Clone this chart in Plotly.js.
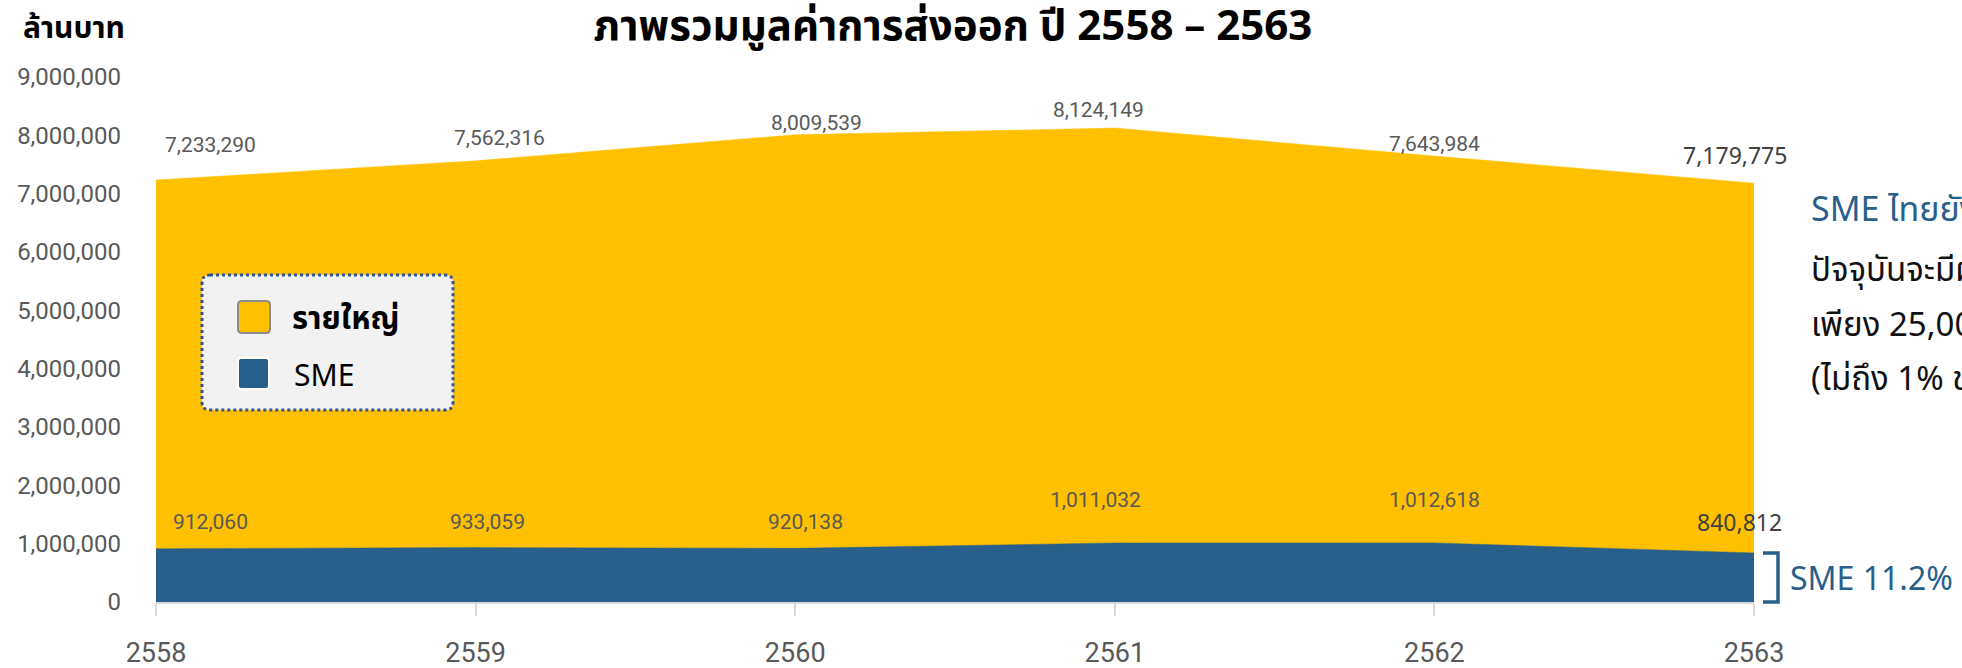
<!DOCTYPE html>
<html><head><meta charset="utf-8">
<script src="https://cdn.plot.ly/plotly-3.0.1.min.js"></script>
<style>html,body{margin:0;padding:0;background:#fff;overflow:hidden;} #chart{width:1962px;height:668px;}</style>
</head><body><div id="chart"></div>
<script>
// ---- data ----
const years = [2558, 2559, 2560, 2561, 2562, 2563];
const yearLabels = ['2558', '2559', '2560', '2561', '2562', '2563'];
const totalExport = [7233290, 7562316, 8009539, 8124149, 7643984, 7179775];
const smeExport = [912060, 933059, 920138, 1011032, 1012618, 840812];
const seriesNames = ['รายใหญ่', 'SME'];
const yTickVals = [0, 1000000, 2000000, 3000000, 4000000, 5000000, 6000000, 7000000, 8000000, 9000000];
const chartTitle = 'ภาพรวมมูลค่าการส่งออก ปี 2558 – 2563';
const yUnit = 'ล้านบาท';
const smeShareText = 'SME 11.2%';
const noteTitle = 'SME ไทยยังส่งออกได้น้อย';
const noteLines = ['ปัจจุบันจะมีผู้ประกอบการ SME ที่ส่งออก', 'เพียง 25,000 ราย', '(ไม่ถึง 1% ของ SME ทั้งหมด)'];

// ---- styling / positions ----
const YELLOW = '#FFC000', BLUE = '#29608B', GRAY = '#595959';
const W = 1962, H = 668;
const M = {l: 156, r: 208, t: 77, b: 66};
const PW = W - M.l - M.r, PH = H - M.t - M.b;
const yMax = 9000000;
const NUM = 'Roboto, "Noto Sans", sans-serif';
const SANS = '"Noto Sans", "Noto Sans Thai", "Open Sans", sans-serif';
function px(x) { return (x - M.l) / PW; }
function py(y) { return (H - M.b - y) / PH; }
const totalDx = [54, 24, 21, -16, 0, -19], totalDy = [35, 23, 12, 18, 12, 28];
const smeDx = [54, 12, 10, -19, 0, -15], smeDy = [27, 26, 26, 43, 43, 31];

function fmt(v) { return v.toLocaleString('en-US'); }
function rr(x0, y0, x1, y1, r) {
  const p = (x, y) => px(x) + ',' + py(y);
  return 'M' + p(x0 + r, y0) + ' L' + p(x1 - r, y0) + ' Q' + p(x1, y0) + ' ' + p(x1, y0 + r) +
    ' L' + p(x1, y1 - r) + ' Q' + p(x1, y1) + ' ' + p(x1 - r, y1) +
    ' L' + p(x0 + r, y1) + ' Q' + p(x0, y1) + ' ' + p(x0, y1 - r) +
    ' L' + p(x0, y0 + r) + ' Q' + p(x0, y0) + ' ' + p(x0 + r, y0) + ' Z';
}

const traces = [
  {x: years, y: totalExport, name: seriesNames[0], type: 'scatter', mode: 'lines',
   fill: 'tozeroy', fillcolor: YELLOW, line: {color: YELLOW, width: 0.5}, hoverinfo: 'skip', showlegend: false},
  {x: years, y: smeExport, name: seriesNames[1], type: 'scatter', mode: 'lines',
   fill: 'tozeroy', fillcolor: BLUE, line: {color: BLUE, width: 0.5}, hoverinfo: 'skip', showlegend: false}
];

const annotations = [];
years.forEach((yr, i) => {
  const last = i === years.length - 1;
  const f = last ? {family: SANS, size: 23, color: '#404040'} : {family: NUM, size: 21, color: GRAY};
  annotations.push({x: yr, y: totalExport[i], xref: 'x', yref: 'y', text: fmt(totalExport[i]), showarrow: false,
    xshift: totalDx[i], yshift: totalDy[i], font: f});
  annotations.push({x: yr, y: smeExport[i], xref: 'x', yref: 'y', text: fmt(smeExport[i]), showarrow: false,
    xshift: smeDx[i], yshift: smeDy[i], font: f});
});
// y unit
annotations.push({xref: 'paper', yref: 'paper', x: px(21), y: py(27), xanchor: 'left', yanchor: 'middle',
  text: '<b>' + yUnit + '</b>', showarrow: false, font: {family: SANS, size: 30, color: '#000'}});
// legend text
annotations.push({xref: 'paper', yref: 'paper', x: px(290), y: py(317), xanchor: 'left', yanchor: 'middle',
  text: '<b>' + seriesNames[0] + '</b>', showarrow: false, font: {family: SANS, size: 31, color: '#000'}});
annotations.push({xref: 'paper', yref: 'paper', x: px(292), y: py(374), xanchor: 'left', yanchor: 'middle',
  text: seriesNames[1], showarrow: false, font: {family: SANS, size: 30, color: '#000'}});
// SME share
annotations.push({xref: 'paper', yref: 'paper', x: px(1788), y: py(577), xanchor: 'left', yanchor: 'middle',
  text: smeShareText, showarrow: false, font: {family: SANS, size: 32, color: BLUE}});
// notes on right
annotations.push({xref: 'paper', yref: 'paper', x: px(1809), y: py(208), xanchor: 'left', yanchor: 'middle',
  text: noteTitle, showarrow: false, font: {family: SANS, size: 34, color: BLUE}});
const noteY = [268, 323, 378];
noteLines.forEach((t, i) => annotations.push({xref: 'paper', yref: 'paper', x: px(1809), y: py(noteY[i]),
  xanchor: 'left', yanchor: 'middle', text: t, showarrow: false, font: {family: SANS, size: 33, color: '#111'}}));

const shapes = [
  // legend box
  {type: 'path', xref: 'paper', yref: 'paper', path: rr(202, 275, 453, 410, 8), fillcolor: '#F2F2F2',
   line: {color: '#2F5597', width: 3, dash: 'dot'}, layer: 'above'},
  {type: 'path', xref: 'paper', yref: 'paper', path: rr(238, 301, 270, 333, 4), fillcolor: YELLOW,
   line: {color: '#8C8C8C', width: 2}, layer: 'above'},
  {type: 'path', xref: 'paper', yref: 'paper', path: rr(238, 358, 269, 389, 3), fillcolor: BLUE,
   line: {color: '#FFFFFF', width: 2}, layer: 'above'},
  // bracket for SME share
  {type: 'path', xref: 'paper', yref: 'paper',
   path: 'M' + px(1763) + ',' + (smeExport[5] / yMax) + ' L' + px(1778) + ',' + (smeExport[5] / yMax) +
         ' L' + px(1778) + ',0 L' + px(1763) + ',0',
   line: {color: BLUE, width: 3.5}, layer: 'above'}
];

const layout = {
  width: W, height: H, margin: M, paper_bgcolor: '#fff', plot_bgcolor: 'rgba(0,0,0,0)',
  showlegend: false,
  title: {text: '<b>' + chartTitle + '</b>', font: {family: SANS, size: 42, color: '#000'},
          xref: 'container', yref: 'container', x: 953 / W, xanchor: 'center', y: 1 - 25 / H, yanchor: 'middle'},
  xaxis: {type: 'linear', range: [years[0], years[years.length - 1]], tickvals: years, ticktext: yearLabels,
    showgrid: false, zeroline: false, showline: true, linecolor: '#D9D9D9', linewidth: 2,
    ticks: 'outside', ticklen: 12, tickcolor: '#D9D9D9', tickwidth: 2, ticklabelstandoff: 14,
    tickfont: {family: NUM, size: 27, color: GRAY}},
  yaxis: {range: [0, yMax], tickvals: yTickVals, tickformat: ',d', showgrid: false, zeroline: false,
    showline: false, ticks: '', ticklabelstandoff: 34, tickfont: {family: NUM, size: 24, color: GRAY}},
  annotations: annotations, shapes: shapes
};

Plotly.newPlot('chart', traces, layout, {staticPlot: true, displayModeBar: false});
</script></body></html>
